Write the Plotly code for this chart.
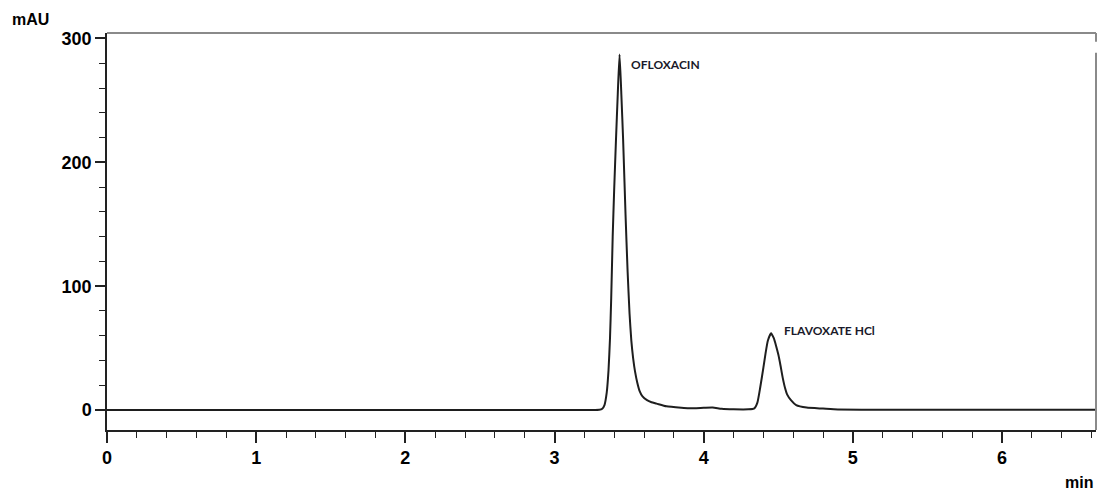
import plotly.graph_objects as go

# Chromatogram trace (time in min, absorbance in mAU)
time_min = [0.0, 1.0, 2.0, 3.0, 3.25, 3.30, 3.32, 3.335, 3.35, 3.362, 3.372, 3.38,
            3.39, 3.40, 3.412, 3.424, 3.436, 3.448, 3.46, 3.476, 3.49, 3.503, 3.515,
            3.527, 3.54, 3.555, 3.57, 3.59, 3.62, 3.65, 3.684, 3.75, 3.85, 3.90,
            4.0, 4.06, 4.12, 4.2, 4.3, 4.34, 4.36, 4.38, 4.40, 4.415, 4.43, 4.452,
            4.47, 4.485, 4.50, 4.515, 4.53, 4.545, 4.56, 4.585, 4.62, 4.69, 4.80,
            4.9, 5.2, 6.0, 6.63]
absorbance_mau = [0.0, 0.0, 0.0, 0.0, 0.0, 0.2, 1.0, 4.0, 14.0, 32.0, 58.0, 90.0,
                  140.0, 178.0, 218.0, 255.0, 287.0, 255.0, 218.0, 158.0, 112.0, 78.0, 56.0,
                  42.0, 31.0, 22.0, 15.5, 11.0, 8.0, 6.3, 5.2, 3.0, 1.8, 1.4,
                  1.8, 2.0, 1.0, 0.6, 0.6, 1.4, 6.0, 19.0, 34.0, 46.0, 56.0, 62.0,
                  58.0, 52.0, 45.0, 36.0, 26.0, 18.0, 12.5, 8.0, 4.0, 2.0, 1.2,
                  0.5, 0.2, 0.2, 0.2]

peak_names = ["OFLOXACIN", "FLAVOXATE HCl"]
peak_label_time = [3.50, 4.528]
peak_label_mau = [279, 64]

x_tick_vals = [0, 1, 2, 3, 4, 5, 6]
x_tick_text = ["0", "1", "2", "3", "4", "5", "6"]
y_tick_vals = [0, 100, 200, 300]
y_tick_text = ["0", "100", "200", "300"]

x_range = [0, 6.63]
y_range = [-16.1, 304.4]

fig = go.Figure()
fig.add_trace(go.Scatter(
    x=time_min, y=absorbance_mau, mode="lines",
    line=dict(color="#1e1e1e", width=2, shape="spline", smoothing=0.5),
    hoverinfo="skip", showlegend=False,
))

for name, tx, ty in zip(peak_names, peak_label_time, peak_label_mau):
    fig.add_annotation(x=tx, y=ty, text="<b>%s</b>" % name, showarrow=False,
                       xanchor="left", yanchor="middle",
                       font=dict(family="Lato", size=12, color="#1a1a2a"))

axis_font = dict(family="Liberation Sans", size=18, color="#000000", weight="bold")

fig.update_layout(
    width=1100, height=492,
    margin=dict(l=107, r=4, t=33, b=62),
    paper_bgcolor="white", plot_bgcolor="white",
    showlegend=False,
    xaxis=dict(range=x_range, tickvals=x_tick_vals, ticktext=x_tick_text,
               showgrid=False, zeroline=False, showline=True, linecolor="#222",
               linewidth=1.5, ticks="outside", ticklen=11, tickwidth=1.5,
               tickcolor="#222", tickfont=axis_font,
               minor=dict(dtick=0.2, ticks="outside", ticklen=6, tickwidth=1.2,
                          tickcolor="#222", showgrid=False)),
    yaxis=dict(range=y_range, tickvals=y_tick_vals, ticktext=y_tick_text,
               showgrid=False, zeroline=False, showline=True, linecolor="#222",
               linewidth=1.5, ticks="outside", ticklen=10, tickwidth=1.5,
               tickcolor="#222", tickfont=axis_font,
               minor=dict(dtick=20, ticks="outside", ticklen=6, tickwidth=1.2,
                          tickcolor="#222", showgrid=False)),
)

# gray frame on top and right
fig.add_shape(type="line", xref="paper", yref="paper", x0=0, x1=1, y0=1, y1=1,
              line=dict(color="#8a8a8a", width=2))
fig.add_shape(type="line", xref="paper", yref="paper", x0=1, x1=1, y0=1, y1=0.978,
              line=dict(color="#8a8a8a", width=2))
fig.add_shape(type="line", xref="paper", yref="paper", x0=1, x1=1, y0=0.95, y1=0,
              line=dict(color="#8a8a8a", width=2))

fig.add_annotation(xref="paper", yref="paper", x=-0.098, y=1.033, text="<b>mAU</b>",
                   showarrow=False, xanchor="left", yanchor="middle",
                   font=dict(family="Liberation Sans", size=16, color="#000"))
fig.add_annotation(xref="paper", yref="paper", x=0.999, y=-0.131, text="<b>min</b>",
                   showarrow=False, xanchor="right", yanchor="middle",
                   font=dict(family="Liberation Sans", size=16, color="#000"))

fig.write_html("out.html", config={"displayModeBar": False},
               post_script="document.body.style.margin='0';")
